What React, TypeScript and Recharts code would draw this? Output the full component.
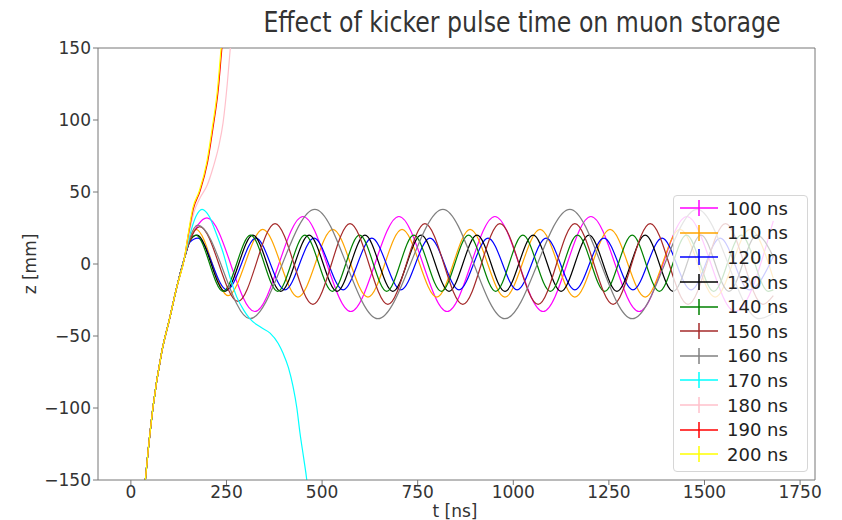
import React from 'react';
import { LineChart, Line, XAxis, YAxis, ReferenceLine } from 'recharts';

type P = [number, number];

// shared rising part (t [ns], z [mm])
const rise: P[] = [[30, -172], [45, -130], [58, -99], [80, -62], [102, -37], [120, -16], [140, 4]];

const s100: P[] = [...rise, [154, 16], [175, 27], [199, 32], [324, -33], [450, 33], [575, -33], [701, 33], [827, -33], [952, 33], [1078, -33], [1203, 33], [1329, -33], [1454, 33], [1580, -33], [1680, 30]];
const s110: P[] = [...rise, [154, 17], [170, 24], [254, -22], [345, 24], [437, -23], [528, 24], [620, -23], [709, 24], [800, -23], [887, 24], [978, -23], [1070, 24], [1161, -23], [1253, 24], [1345, -23], [1436, 24], [1528, -23], [1619, 24], [1680, -10]];
const s120: P[] = [...rise, [154, 15], [175, 18], [251, -18], [327, 18], [403, -18], [479, 18], [555, -18], [630, 18], [706, -18], [782, 18], [858, -18], [934, 18], [1010, -18], [1086, 18], [1161, -18], [1237, 18], [1313, -18], [1389, 18], [1465, -18], [1541, 18], [1617, -18], [1680, 5]];
const s130: P[] = [...rise, [154, 16], [173, 20], [246, -19], [319, 20], [392, -19], [466, 20], [539, -19], [612, 20], [685, -19], [759, 20], [832, -19], [905, 20], [978, -19], [1052, 20], [1125, -19], [1198, 20], [1271, -19], [1345, 20], [1418, -19], [1491, 20], [1564, -19], [1637, 20], [1680, 5]];
const s140: P[] = [...rise, [154, 16], [170, 20], [241, -19], [313, 20], [384, -19], [455, 20], [527, -19], [598, 20], [669, -19], [740, 20], [812, -19], [883, 20], [954, -19], [1025, 20], [1097, -19], [1168, 20], [1239, -19], [1311, 20], [1382, -19], [1453, 20], [1524, -19], [1596, 20], [1667, -19], [1680, -18]];
const s150: P[] = [...rise, [154, 16], [180, 26], [280, -26], [377, 28], [476, -28], [573, 28], [672, -28], [769, 28], [868, -28], [965, 28], [1065, -28], [1161, 28], [1261, -28], [1358, 28], [1457, -28], [1555, 28], [1653, -28], [1680, -22]];
const s160: P[] = [...rise, [154, 18], [175, 27], [311, -38], [481, 38], [646, -38], [816, 38], [978, -38], [1148, 38], [1311, -38], [1481, 38], [1643, -38], [1680, -34]];
const s170: P[] = [...rise, [154, 20], [170, 33], [186, 38], [205, 33], [222, 22], [241, 8], [260, -10], [277, -23], [295, -32], [311, -38], [340, -44], [364, -48], [385, -55], [398, -62], [412, -72], [424, -85], [434, -100], [442, -117], [452, -135], [460, -150], [468, -172]];
const s180: P[] = [...rise, [150, 18], [165, 36], [181, 46], [200, 55], [215, 67], [230, 82], [241, 98], [252, 125], [260, 150], [268, 175]];
const s190: P[] = [...rise, [150, 20], [163, 38], [180, 50], [200, 70], [215, 95], [228, 120], [238, 150], [248, 178]];
const s200: P[] = [...rise, [150, 21], [162, 39], [178, 50], [198, 70], [213, 95], [226, 120], [236, 150], [246, 178]];

const labels = ['100 ns', '110 ns', '120 ns', '130 ns', '140 ns', '150 ns', '160 ns', '170 ns', '180 ns', '190 ns', '200 ns'];
const colors = ['#ff00ff', '#ffa500', '#0000ff', '#000000', '#008000', '#a52a2a', '#808080', '#00ffff', '#ffc0cb', '#ff0000', '#ffff00'];
const series: P[][] = [s100, s110, s120, s130, s140, s150, s160, s170, s180, s190, s200];

const xTicks = [0, 250, 500, 750, 1000, 1250, 1500, 1750];
const yTicks = [-150, -100, -50, 0, 50, 100, 150];

const font = 'DejaVu Sans, sans-serif';
const tickStyle = { fontFamily: font, fontSize: 17, fill: '#333' };
const fmt = (v: number) => (v < 0 ? '\u2212' + Math.abs(v) : String(v));

export default function App() {
  return (
    <div style={{ position: 'absolute', left: 0, top: 0, width: 842, height: 520, background: '#fff', overflow: 'hidden' }}>
      <LineChart width={842} height={520} margin={{ top: 48, right: 27, bottom: 0, left: 0 }}>
        <XAxis
          type="number"
          dataKey="t"
          domain={[-86, 1789]}
          allowDataOverflow
          ticks={xTicks}
          tickFormatter={fmt}
          height={40}
          tick={tickStyle}
          tickSize={5}
          tickMargin={1}
          stroke="#777"
        />
        <YAxis
          type="number"
          dataKey="z"
          domain={[-150, 150]}
          allowDataOverflow
          ticks={yTicks}
          tickFormatter={fmt}
          width={98}
          tick={tickStyle}
          tickSize={5}
          tickMargin={2}
          stroke="#777"
        />
        <ReferenceLine y={150} stroke="#777" ifOverflow="visible" />
        <ReferenceLine x={1789} stroke="#777" ifOverflow="visible" />
        {series.map((s, i) => (
          <Line
            key={labels[i]}
            data={s.map(([t, z]) => ({ t, z }))}
            dataKey="z"
            type="monotone"
            stroke={colors[i]}
            strokeWidth={1.2}
            dot={false}
            isAnimationActive={false}
          />
        ))}
      </LineChart>
      <div style={{ position: 'absolute', left: 522, top: 8, transform: 'translateX(-50%) scaleX(0.815)', fontFamily: font, fontSize: 29, lineHeight: '29px', color: '#333', whiteSpace: 'nowrap' }}>
        Effect of kicker pulse time on muon storage
      </div>
      <div style={{ position: 'absolute', left: 455, top: 511, transform: 'translate(-50%,-50%)', fontFamily: font, fontSize: 17, color: '#333', whiteSpace: 'nowrap' }}>
        t [ns]
      </div>
      <div style={{ position: 'absolute', left: 30, top: 264, transform: 'translate(-50%,-50%) rotate(-90deg)', fontFamily: font, fontSize: 17, color: '#333', whiteSpace: 'nowrap' }}>
        z [mm]
      </div>
      <div style={{ position: 'absolute', left: 673, top: 195, width: 135, height: 277, boxSizing: 'border-box', background: 'rgba(255,255,255,0.8)', border: '1px solid #d6d6d6', borderRadius: 4, fontFamily: font, fontSize: 18, color: '#222' }}>
        {labels.map((l, i) => (
          <div key={l} style={{ height: 24.6, display: 'flex', alignItems: 'center' }}>
            <svg width={53} height={24} style={{ flex: 'none' }}>
              <line x1={6} x2={44} y1={12} y2={12} stroke={colors[i]} strokeWidth={1.5} />
              <line x1={25} x2={25} y1={4} y2={20} stroke={colors[i]} strokeWidth={1.5} />
            </svg>
            <span style={{ whiteSpace: 'nowrap' }}>{l}</span>
          </div>
        ))}
      </div>
    </div>
  );
}
